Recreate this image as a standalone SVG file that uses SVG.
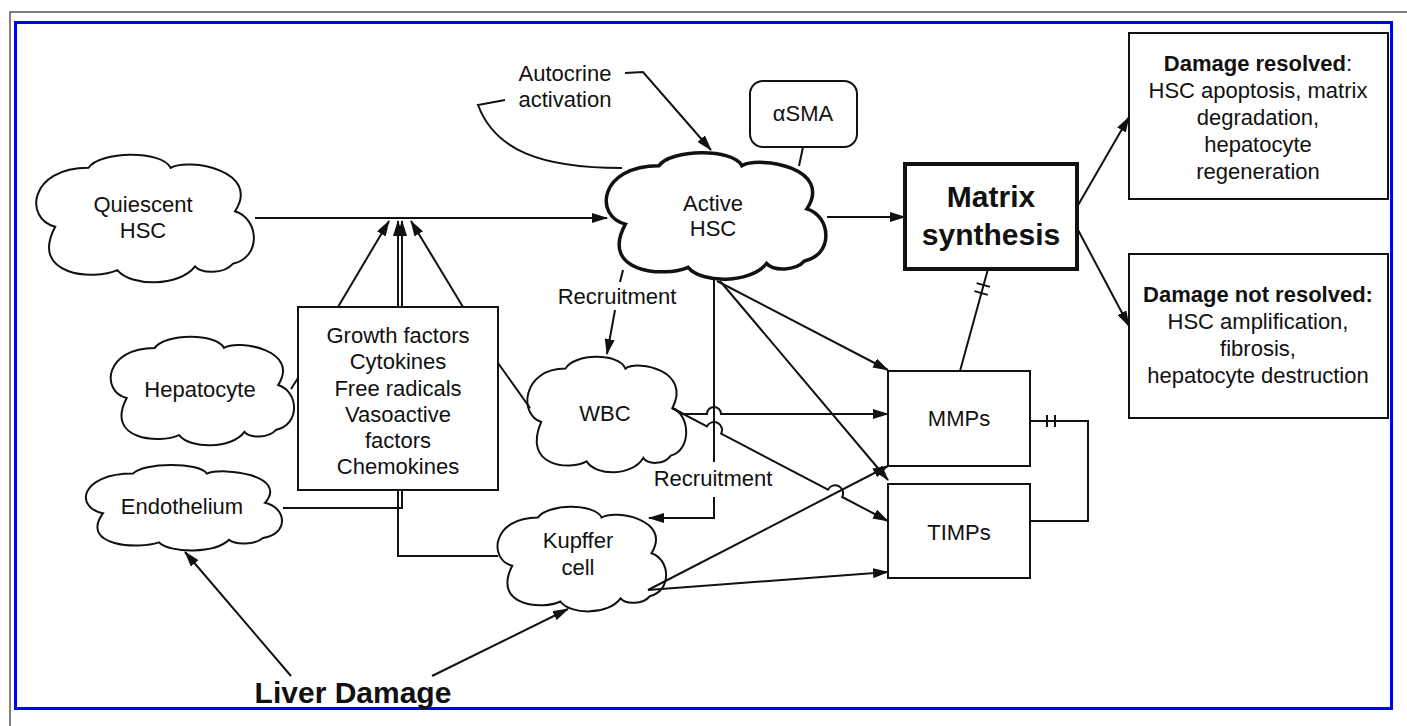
<svg xmlns="http://www.w3.org/2000/svg" xmlns:xlink="http://www.w3.org/1999/xlink" width="1407" height="726" viewBox="0 0 1407 726">
<style>
.t{font-family:"Liberation Sans",Arial,sans-serif;font-size:22px;text-anchor:middle;fill:#111}
.b{font-weight:bold}
.box{fill:#fff;stroke:#111;stroke-width:2}
.cl{fill:#fff;stroke:#111;stroke-width:2}
.cl path{vector-effect:non-scaling-stroke}
#connectors line,#connectors path{fill:none;stroke:#111;stroke-width:2}
</style>
<defs>
<marker id="ah" viewBox="0 0 16 10" refX="15" refY="5" markerWidth="16" markerHeight="10" markerUnits="userSpaceOnUse" orient="auto">
<path d="M0,0 L16,5 L0,10 z" fill="#111"/>
</marker>
<path id="cloud" d="M0.25,0.10 C0.30,-0.03 0.58,-0.04 0.62,0.10 C0.70,0.02 1.03,0.12 0.91,0.44 C1.02,0.50 1.03,0.80 0.90,0.85 C0.86,0.93 0.76,0.93 0.73,0.87 C0.66,1.03 0.44,1.03 0.38,0.90 C0.28,0.98 -0.02,0.95 0.10,0.56 C-0.04,0.50 -0.02,0.10 0.25,0.10 Z" vector-effect="non-scaling-stroke"/>
</defs>
<rect width="1407" height="726" fill="#fff"/>
<rect x="10" y="12" width="1500" height="800" fill="none" stroke="#555" stroke-width="1.5"/>
<rect x="15.5" y="22.5" width="1376" height="686" fill="none" stroke="#0000ff" stroke-width="3"/>

<g id="quiescent-hsc">
<use href="#cloud" class="cl" transform="translate(33,155) scale(222,128)"/>
<text class="t" x="143" y="212">Quiescent</text>
<text class="t" x="143" y="238">HSC</text>
</g>
<g id="active-hsc">
<use href="#cloud" class="cl" style="stroke-width:3.5" transform="translate(603,153) scale(224,127)"/>
<text class="t" x="713" y="211">Active</text>
<text class="t" x="713" y="236">HSC</text>
</g>
<g id="hepatocyte">
<use href="#cloud" class="cl" transform="translate(108,337) scale(187,109)"/>
<text class="t" x="200" y="397">Hepatocyte</text>
</g>
<g id="endothelium">
<use href="#cloud" class="cl" transform="translate(83,465) scale(200,86)"/>
<text class="t" x="182" y="514">Endothelium</text>
</g>
<g id="wbc">
<use href="#cloud" class="cl" transform="translate(525,357) scale(162,116)"/>
<text class="t" x="605" y="421">WBC</text>
</g>
<g id="kupffer">
<use href="#cloud" class="cl" transform="translate(495,507) scale(172,105)"/>
<text class="t" x="578" y="548">Kupffer</text>
<text class="t" x="578" y="575">cell</text>
</g>
<g id="factors">
<rect class="box" x="298" y="307" width="200" height="183"/>
<text class="t" x="398" y="343">Growth factors</text>
<text class="t" x="398" y="369">Cytokines</text>
<text class="t" x="398" y="396">Free radicals</text>
<text class="t" x="398" y="422">Vasoactive</text>
<text class="t" x="398" y="448">factors</text>
<text class="t" x="398" y="474">Chemokines</text>
</g>
<g id="asma">
<rect class="box" x="750" y="81" width="107" height="66" rx="13"/>
<text class="t" x="803" y="121">αSMA</text>
</g>
<g id="matrix">
<rect class="box" x="905" y="164" width="172" height="105" style="stroke-width:4"/>
<text class="t b" x="991" y="207" style="font-size:30px">Matrix</text>
<text class="t b" x="991" y="245" style="font-size:30px">synthesis</text>
</g>
<g id="resolved">
<rect class="box" x="1129" y="33" width="259" height="166"/>
<text class="t" x="1258" y="71"><tspan class="b">Damage resolved</tspan>:</text>
<text class="t" x="1258" y="98">HSC apoptosis, matrix</text>
<text class="t" x="1258" y="125">degradation,</text>
<text class="t" x="1258" y="152">hepatocyte</text>
<text class="t" x="1258" y="179">regeneration</text>
</g>
<g id="not-resolved">
<rect class="box" x="1129" y="254" width="259" height="164"/>
<text class="t b" x="1258" y="302">Damage not resolved:</text>
<text class="t" x="1258" y="329">HSC amplification,</text>
<text class="t" x="1258" y="356">fibrosis,</text>
<text class="t" x="1258" y="383">hepatocyte destruction</text>
</g>
<g id="mmps">
<rect class="box" x="888" y="371" width="142" height="95"/>
<text class="t" x="959" y="426">MMPs</text>
</g>
<g id="timps">
<rect class="box" x="888" y="484" width="142" height="94"/>
<text class="t" x="959" y="540">TIMPs</text>
</g>
<g id="autocrine-label">
<text class="t" x="565" y="81">Autocrine</text>
<text class="t" x="565" y="107">activation</text>
</g>
<g id="liver-damage">
<text class="t b" x="353" y="703" style="font-size:30px">Liver Damage</text>
</g>

<g id="connectors">
<line x1="255" y1="218" x2="607" y2="218" marker-end="url(#ah)"/>
<line x1="338" y1="307" x2="389" y2="221" marker-end="url(#ah)"/>
<line x1="463" y1="307" x2="411" y2="221" marker-end="url(#ah)"/>
<line x1="398" y1="307" x2="398" y2="221" marker-end="url(#ah)"/>
<line x1="402" y1="307" x2="402" y2="221" marker-end="url(#ah)"/>
<path d="M498,556 H398 V490"/>
<path d="M283,508 H402 V490"/>
<line x1="291" y1="389" x2="298" y2="378"/>
<line x1="530" y1="408" x2="498" y2="363"/>
<path d="M505,100 L478,105 C495,150 540,168 622,168"/>
<path d="M625,73 L643,72 L711,150" marker-end="url(#ah)"/>
<line x1="803" y1="147" x2="799" y2="166"/>
<line x1="827" y1="217" x2="905" y2="217" marker-end="url(#ah)"/>
<line x1="623" y1="270" x2="620" y2="282"/>
<line x1="615" y1="310" x2="607" y2="354" marker-end="url(#ah)"/>
<text class="t" x="617" y="304" stroke="none" fill="#111">Recruitment</text>
<line x1="714" y1="280" x2="714" y2="462"/>
<path d="M714,497 V518 H649" marker-end="url(#ah)"/>
<text class="t" x="713" y="486" stroke="none" fill="#111">Recruitment</text>
<line x1="717" y1="281" x2="888" y2="370" marker-end="url(#ah)"/>
<line x1="720" y1="281" x2="888" y2="480" marker-end="url(#ah)"/>
<path d="M672,408 L683,414 H707 A7,7 0 0 1 721,414 H888" marker-end="url(#ah)"/>
<path d="M672,408 L706.9,426.3 A8,8 0 0 1 721.1,433.7 L828,489.6 A8,8 0 0 1 842.2,497 L888,521" marker-end="url(#ah)"/>
<line x1="648" y1="590" x2="888" y2="466" marker-end="url(#ah)"/>
<line x1="648" y1="590" x2="888" y2="572" marker-end="url(#ah)"/>
<line x1="291" y1="676" x2="185" y2="552" marker-end="url(#ah)"/>
<line x1="432" y1="676" x2="568" y2="609" marker-end="url(#ah)"/>
<line x1="1077" y1="207" x2="1129" y2="117" marker-end="url(#ah)"/>
<line x1="1077" y1="228" x2="1129" y2="326" marker-end="url(#ah)"/>
<line x1="988" y1="269" x2="960" y2="371"/>
<line x1="976.6" y1="283.1" x2="990" y2="286.9"/>
<line x1="974.4" y1="291.1" x2="987.8" y2="294.9"/>
<path d="M1030,421 H1088 V521 H1030"/>
<line x1="1047" y1="415" x2="1047" y2="427"/>
<line x1="1055" y1="415" x2="1055" y2="427"/>
</g>
</svg>
